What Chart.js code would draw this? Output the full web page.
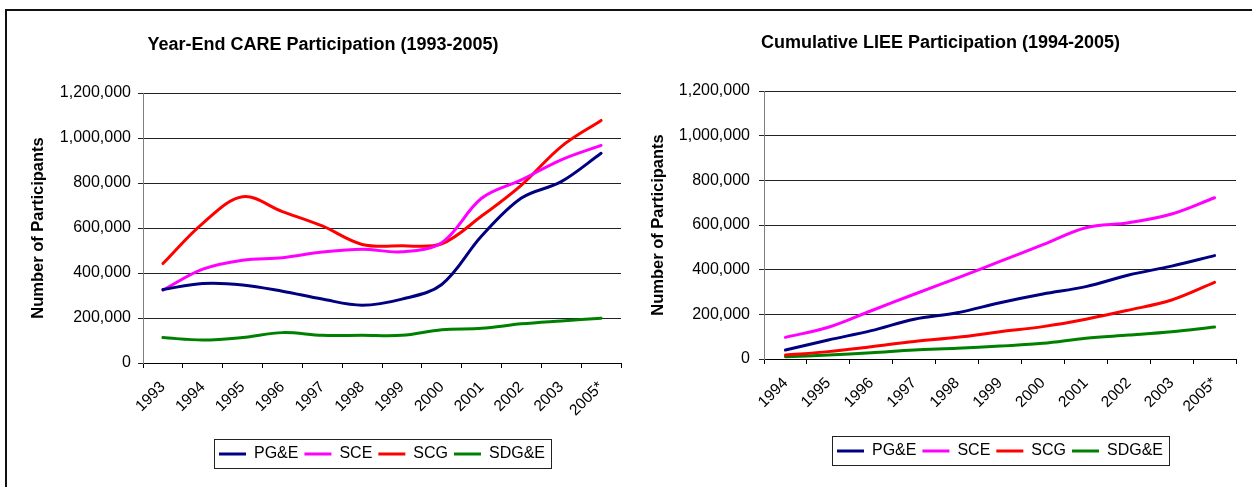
<!DOCTYPE html>
<html>
<head>
<meta charset="utf-8">
<script src="https://cdn.jsdelivr.net/npm/chart.js@4.4.1/dist/chart.umd.min.js"></script>
<style>
	body{margin:0;background:#fff;width:1252px;height:487px;overflow:hidden;position:relative;}
	#frame{position:absolute;left:5px;top:9px;width:1300px;height:600px;border:2px solid #111;box-sizing:border-box;}
	#care{position:absolute;left:0;top:0;}
	#liee{position:absolute;left:630px;top:0;}
</style>
</head>
<body>
<div id="frame"></div>
<canvas id="care" width="630" height="487"></canvas>
<canvas id="liee" width="622" height="487"></canvas>
<script>
var FONT = "Arial, 'Liberation Sans', sans-serif";

// Year-End CARE Participation
var careYears = ["1993","1994","1995","1996","1997","1998","1999","2000","2001","2002","2003","2005*"];
var carePGE  = [327000,353000,347000,319000,284000,257000,284000,349000,564000,733000,806000,932000];
var careSCE  = [324000,417000,457000,468000,493000,506000,494000,535000,732000,814000,903000,967000];
var careSCG  = [442000,621000,739000,673000,609000,527000,521000,530000,653000,791000,962000,1078000];
var careSDGE = [113000,102000,113000,135000,123000,123000,123000,148000,154000,174000,187000,199000];

// Cumulative LIEE Participation
var lieeYears = ["1994","1995","1996","1997","1998","1999","2000","2001","2002","2003","2005*"];
var lieePGE  = [40000,85000,127000,178000,207000,252000,291000,324000,376000,416000,463000];
var lieeSCE  = [97000,142000,216000,290000,362000,437000,512000,588000,610000,649000,722000];
var lieeSCG  = [18000,33000,55000,78000,97000,122000,145000,178000,219000,264000,343000];
var lieeSDGE = [10000,18000,28000,40000,48000,58000,70000,93000,107000,122000,143000];

var seriesNames = ["PG&E","SCE","SCG","SDG&E"];
var seriesColors = ["#000080","#ff00ff","#ff0000","#008000"];
var yTicks = [0,200000,400000,600000,800000,1000000,1200000];

// box round the legend, like the excel one
var legendFrame = {
	id: 'legendFrame',
	afterDraw: function(chart){
		var boxes = chart.legend.legendHitBoxes;
		if(!boxes || !boxes.length) return;
		var first = boxes[0];
		var last = boxes[boxes.length-1];
		var cy = first.top + first.height/2;
		var x0 = Math.round(first.left - 5) + 0.5;
		var x1 = Math.round(last.left + last.width + 6) + 0.5;
		var y0 = Math.round(cy - 15) + 0.5;
		var ctx = chart.ctx;
		ctx.save();
		ctx.strokeStyle = '#222';
		ctx.lineWidth = 1;
		ctx.strokeRect(x0, y0, x1 - x0, 29);
		ctx.restore();
	}
};

function make_chart(canvasId, title, labels, values, cfg){
	var datasets = [];
	for(var i = 0; i < values.length; i++){
		datasets.push({
			label: seriesNames[i],
			data: values[i],
			borderColor: seriesColors[i],
			backgroundColor: seriesColors[i],
			borderWidth: 3,
			pointRadius: 0,
			tension: 0.35,
			fill: false,
			borderCapStyle: 'round',
			borderJoinStyle: 'round'
		});
	}
	var ctx = document.getElementById(canvasId).getContext('2d');
	return new Chart(ctx, {
		type: 'line',
		data: {labels: labels, datasets: datasets},
		plugins: [legendFrame],
		options: {
			responsive: false,
			animation: false,
			layout: {padding: cfg.padding},
			plugins: {
				title: {
					display: true,
					text: title,
					color: '#000',
					font: {family: FONT, size: 18, weight: 'bold'},
					padding: {top: cfg.titleTop, bottom: cfg.titleBottom}
				},
				legend: {
					position: 'bottom',
					fullSize: false,
					labels: {
						boxWidth: 27,
						boxHeight: 3,
						padding: 6,
						color: '#000',
						font: {family: FONT, size: 16},
						generateLabels: function(chart){
							var items = Chart.defaults.plugins.legend.labels.generateLabels(chart);
							items.forEach(function(it){ it.lineWidth = 0; });
							return items;
						}
					}
				},
				tooltip: {enabled: false}
			},
			scales: {
				x: {
					offset: true,
					grid: {offset: true, drawOnChartArea: false, drawTicks: true, tickLength: 5, color: '#000'},
					border: {color: '#000', width: 1},
					ticks: {
						minRotation: 45, maxRotation: 45, autoSkip: false, padding: 10,
						color: '#000', font: {family: FONT, size: 15.5}
					},
					afterFit: function(s){ s.height = cfg.xHeight; }
				},
				y: {
					min: 0,
					max: 1200000,
					afterBuildTicks: function(s){
						s.ticks = yTicks.map(function(v){ return {value: v}; });
					},
					ticks: {
						padding: cfg.yPad,
						color: '#000',
						font: {family: FONT, size: 16},
						callback: function(v){ return v.toLocaleString('en-US'); }
					},
					grid: {color: '#222', tickLength: 5, drawTicks: true},
					border: {color: '#808080', width: 1},
					title: {
						display: true,
						text: 'Number of Participants',
						color: '#000',
						font: {family: FONT, size: 16.5, weight: 'bold'},
						padding: {top: 4, bottom: 4}
					},
					afterFit: function(s){ s.width = cfg.yWidth; }
				}
			}
		}
	});
}

make_chart('care', 'Year-End CARE Participation (1993-2005)', careYears,
	[carePGE, careSCE, careSCG, careSDGE],
	{padding: {left: 25, right: 9, top: 0, bottom: 15}, titleTop: 34.2, titleBottom: 37.2, xHeight: 77, yWidth: 118, yPad: 7});

make_chart('liee', 'Cumulative LIEE Participation (1994-2005)', lieeYears,
	[lieePGE, lieeSCE, lieeSCG, lieeSDGE],
	{padding: {left: 15, right: 16, top: 0, bottom: 18}, titleTop: 32.2, titleBottom: 37.2, xHeight: 78, yWidth: 119, yPad: 9});
</script>
</body>
</html>
